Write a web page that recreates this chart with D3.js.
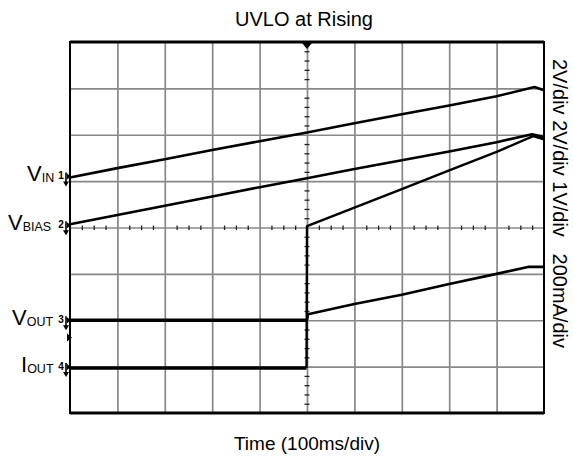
<!DOCTYPE html>
<html>
<head>
<meta charset="utf-8">
<script src="https://cdn.jsdelivr.net/npm/d3@7"></script>
<style>
  body { margin: 0; background: #fff; }
  svg { display: block; font-family: "Liberation Sans", Arial, sans-serif; }
</style>
</head>
<body>
<svg id="scope" width="573" height="464"></svg>
<script>
// time in divisions (0..10), level in divisions from the bottom of the screen (0..8)
const vinTime = [0, 1, 2, 3, 4, 5, 6, 7, 8, 9, 9.8, 10];
const vinDiv = [5.08, 5.28, 5.47, 5.67, 5.86, 6.05, 6.25, 6.44, 6.63, 6.83, 7.03, 6.96];

const vbiasTime = [0, 1, 2, 3, 4, 5, 6, 7, 8, 9, 9.75, 10];
const vbiasDiv = [4.07, 4.27, 4.47, 4.67, 4.87, 5.06, 5.26, 5.45, 5.64, 5.84, 6.01, 5.95];

const voutTime = [0, 5.0, 5.02, 6, 7, 8, 9, 9.66, 10];
const voutDiv = [2.0, 2.0, 2.13, 2.35, 2.55, 2.78, 3.0, 3.15, 3.15];

const ioutTime = [0, 4.99, 5.0, 6, 7, 8, 9, 9.77, 10];
const ioutDiv = [0.97, 0.97, 4.03, 4.43, 4.83, 5.23, 5.63, 5.97, 5.9];

const channels = [
  { name: "V", sub: "IN", num: "1", ground: 5.1, x: 27 },
  { name: "V", sub: "BIAS", num: "2", ground: 4.05, x: 8 },
  { name: "V", sub: "OUT", num: "3", ground: 2.0, x: 12 },
  { name: "I", sub: "OUT", num: "4", ground: 0.99, x: 21 }
];

const scaleText = "2V/div 2V/div 1V/div   200mA/div";

var margin = {top: 42, right: 29, bottom: 51, left: 70},
    width = 573 - margin.left - margin.right,
    height = 464 - margin.top - margin.bottom;

var svg = d3.select("#scope");
var g = svg.append("g")
    .attr("transform", "translate(" + margin.left + "," + margin.top + ")");

var x = d3.scaleLinear().domain([0, 10]).range([0, width]);
var y = d3.scaleLinear().domain([0, 8]).range([height, 0]);

// grid
g.append("g")
    .attr("class", "grid")
    .attr("transform", "translate(0," + height + ")")
    .call(d3.axisBottom(x).tickValues(d3.range(1, 10)).tickSize(-height).tickFormat(""))
    .call(s => s.select(".domain").remove());
g.append("g")
    .attr("class", "grid")
    .call(d3.axisLeft(y).tickValues(d3.range(1, 8)).tickSize(-width).tickFormat(""))
    .call(s => s.select(".domain").remove());
g.selectAll(".grid line").attr("stroke", "#888").attr("stroke-width", 1.7);

// minor ticks on the centre lines (4 per div across, 5 per div up)
var minorX = d3.range(0, 40).map(i => i / 4).filter((d, i) => i % 4 != 0);
var minorY = d3.range(0, 40).map(i => i / 5).filter((d, i) => i % 5 != 0);
g.append("g")
    .attr("transform", "translate(0," + y(4) + ")")
    .call(d3.axisBottom(x).tickValues(minorX).tickSize(2.5).tickFormat(""))
    .call(s => s.select(".domain").remove())
    .selectAll("line").attr("stroke", "#222").attr("stroke-width", 1.3).attr("y1", -2);
g.append("g")
    .attr("transform", "translate(" + x(5) + ",0)")
    .call(d3.axisLeft(y).tickValues(minorY).tickSize(2.5).tickFormat(""))
    .call(s => s.select(".domain").remove())
    .selectAll("line").attr("stroke", "#222").attr("stroke-width", 1.3).attr("x1", 2.5);

// frame
g.append("rect")
    .attr("width", width)
    .attr("height", height)
    .attr("fill", "none")
    .attr("stroke", "#000")
    .attr("stroke-width", 2);
g.append("line").attr("x1", 0).attr("x2", width).attr("y1", 0).attr("y2", 0)
    .attr("stroke", "#000").attr("stroke-width", 3);
g.append("line").attr("x1", 0).attr("x2", width).attr("y1", height).attr("y2", height)
    .attr("stroke", "#000").attr("stroke-width", 3);

// trigger position marker
g.append("path")
    .attr("d", "M" + (x(5) - 5) + ",1 L" + (x(5) + 5) + ",1 L" + x(5) + ",7 Z")
    .attr("fill", "#000");
// trigger level marker
g.append("path")
    .attr("d", "M-3," + (y(1.63) - 4) + " L2," + y(1.63) + " L-3," + (y(1.63) + 4) + " Z")
    .attr("fill", "#000");

// traces
var line = d3.line()
    .x(d => x(d[0]))
    .y(d => y(d[1]));

function trace(times, levels, w) {
  g.append("path")
      .datum(d3.zip(times, levels))
      .attr("d", line)
      .attr("fill", "none")
      .attr("stroke", "#000")
      .attr("stroke-width", w)
      .attr("stroke-linejoin", "round");
}
trace(vinTime, vinDiv, 2.6);
trace(vbiasTime, vbiasDiv, 2.6);
trace(voutTime.slice(0, 2), voutDiv.slice(0, 2), 3.6);
trace(voutTime.slice(1), voutDiv.slice(1), 2.6);
trace(ioutTime.slice(0, 2), ioutDiv.slice(0, 2), 3.6);
trace(ioutTime.slice(1), ioutDiv.slice(1), 2.4);

// channel ground markers and labels
channels.forEach(function(c) {
  var cy = y(c.ground);
  var m = svg.append("g").attr("transform", "translate(" + (margin.left - 6) + "," + (margin.top + cy) + ")");
  m.append("text")
      .attr("x", -3).attr("y", 3)
      .attr("font-size", 10).attr("font-weight", "bold")
      .attr("text-anchor", "middle")
      .text(c.num);
  m.append("line").attr("x1", 2).attr("x2", 2).attr("y1", -4).attr("y2", 7)
      .attr("stroke", "#000").attr("stroke-width", 1.6);
  m.append("path").attr("d", "M-1,5 L5,5 L2,10 Z").attr("fill", "#000");
  m.append("path").attr("d", "M3,-3 L7,0 L3,3 Z").attr("fill", "#000");

  var t = svg.append("text")
      .attr("x", c.x)
      .attr("y", margin.top + cy + 5)
      .attr("font-size", 22);
  t.append("tspan").text(c.name);
  t.append("tspan").attr("font-size", 12.5).attr("dy", 1).text(c.sub);
});

// titles
svg.append("text")
    .attr("x", 304).attr("y", 26)
    .attr("text-anchor", "middle")
    .attr("font-size", 20)
    .text("UVLO at Rising");
svg.append("text")
    .attr("x", 307).attr("y", 450)
    .attr("text-anchor", "middle")
    .attr("font-size", 19)
    .text("Time (100ms/div)");
svg.append("text")
    .attr("transform", "translate(553,59) rotate(90)")
    .attr("font-size", 20)
    .style("white-space", "pre")
    .text(scaleText);
</script>
</body>
</html>
